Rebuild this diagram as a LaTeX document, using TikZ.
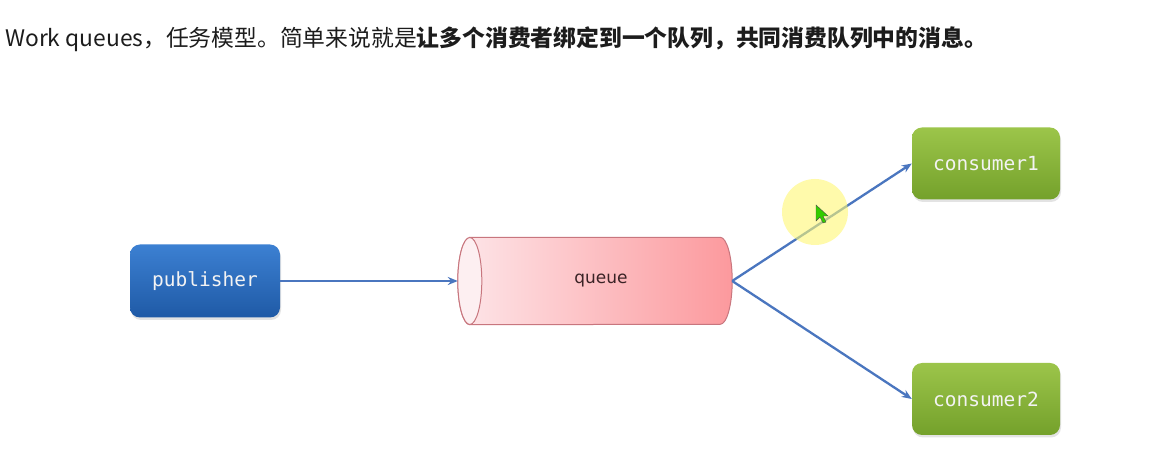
\documentclass[tikz,border=0pt]{standalone}
\usepackage{fontspec}
\setmainfont{Noto Sans CJK SC}
\newfontfamily\cjkfont{Noto Sans CJK SC}
\newfontfamily\monofont{DejaVu Sans Mono}
\newfontfamily\labelfont{DejaVu Sans}
\usetikzlibrary{arrows.meta,shadows,calc}
\definecolor{pubTop}{HTML}{3C80D2}
\definecolor{pubBot}{HTML}{1F5AA6}
\definecolor{conTop}{HTML}{9CC54A}
\definecolor{conBot}{HTML}{74A12B}
\definecolor{qL}{HTML}{FDE6E9}
\definecolor{qR}{HTML}{FC999D}
\definecolor{qB}{HTML}{C8767E}
\definecolor{qE}{HTML}{FDEFF1}
\definecolor{arrowc}{HTML}{4A76BF}
\definecolor{titlec}{HTML}{1C1C1C}
\definecolor{boxtext}{HTML}{F3F3F3}
\definecolor{qtextc}{HTML}{3A2326}
\tikzset{
  box/.style={rectangle, rounded corners=10pt, inner sep=0pt,
    font=\monofont\fontsize{19.5}{22}\selectfont, text=boxtext,
    drop shadow={opacity=0.22, shadow xshift=1pt, shadow yshift=-2.5pt}},
  pubbox/.style={box, top color=pubTop, bottom color=pubBot,
    minimum width=150pt, minimum height=73pt},
  conbox/.style={box, top color=conTop, bottom color=conBot,
    minimum width=148pt, minimum height=72pt},
  flow/.style={draw=arrowc, line width=2.3pt, -{Stealth[length=10pt,width=8pt]}},
}
\begin{document}
\begin{tikzpicture}[x=1pt,y=1pt]
\useasboundingbox (0,0) rectangle (1169,460);
\fill[white] (0,0) rectangle (1169,460);

\node[anchor=base west, inner sep=0pt, text=titlec,
      font=\cjkfont\fontsize{22.8}{28}\selectfont] (title) at (5,413)
  {Work queues，任务模型。简单来说就是\textbf{让多个消费者绑定到一个队列，共同消费队列中的消息。}};

\node[pubbox] (pub) at (205,179) {publisher};
\node[conbox] (c1) at (986,296.5) {consumer1};
\node[conbox] (c2) at (986,61) {consumer2};

% queue cylinder
\node[rectangle, draw=none, minimum width=274pt, minimum height=87pt, inner sep=0pt] (queue) at (595,179) {};
\path[draw=qB, line width=1pt, left color=qL, right color=qR]
  ([xshift=12pt]queue.north west) -- ([xshift=-12pt]queue.north east)
  arc[start angle=90, end angle=-90, x radius=12pt, y radius=43.5pt]
  -- ([xshift=12pt]queue.south west)
  arc[start angle=270, end angle=90, x radius=12pt, y radius=43.5pt] -- cycle;
\path[draw=qB, line width=1pt, fill=qE] ([xshift=12pt]queue.west) ellipse[x radius=12pt, y radius=43.5pt];
\node[font=\labelfont\fontsize{17}{20}\selectfont, text=qtextc] (qtext) at (601,179) {queue};

% connectors
\draw[flow] (pub.east) -- (queue.west);
\draw[flow] (queue.east) -- (c1.west);
\draw[flow] (queue.east) -- (c2.west);

% cursor highlight
\fill[yellow!55!white, opacity=0.6] (815,248) circle[radius=33pt];
\draw[black!70, line width=0.4pt, fill=green!60!olive]
  (816,255) -- (816,239) -- (820,243) -- (823,237) -- (826,238) -- (823,244) -- (828,244) -- cycle;
\end{tikzpicture}
\end{document}
